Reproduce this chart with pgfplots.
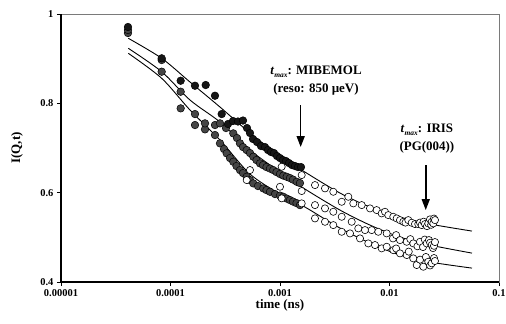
\documentclass[border=0pt]{standalone}
\usepackage{pgfplots}
\pgfplotsset{compat=1.18}
\usepackage{pgfplotstable}
\usepackage{fontspec}
\setmainfont{Liberation Serif}
\usetikzlibrary{arrows.meta}

\definecolor{darkpt}{HTML}{161616}
\definecolor{graypt}{HTML}{454545}
\definecolor{framegray}{HTML}{7A7A7A}

% filled points (MIBEMOL)
\pgfplotstableread{
t I
4.09e-5 0.9709
8.31e-5 0.9008
1.239e-4 0.8506
1.674e-4 0.8394
2.097e-4 0.8410
2.549e-4 0.8170
2.935e-4 0.7760
3.351e-4 0.7537
3.722e-4 0.7604
4.134e-4 0.7593
4.593e-4 0.7615
4.995e-4 0.7447
5.321e-4 0.7335
5.667e-4 0.7201
6.166e-4 0.7133
6.707e-4 0.7044
7.295e-4 0.7021
7.769e-4 0.6954
8.275e-4 0.6910
8.815e-4 0.6887
9.389e-4 0.6820
1.000e-3 0.6775
1.065e-3 0.6730
1.134e-3 0.6708
1.208e-3 0.6663
1.287e-3 0.6618
1.371e-3 0.6596
1.460e-3 0.6573
1.555e-3 0.6573
}\topfilled

\pgfplotstableread{
t I
4.09e-5 0.9642
8.31e-5 0.8708
1.239e-4 0.8260
1.674e-4 0.7760
2.066e-4 0.7552
2.549e-4 0.7514
2.832e-4 0.7552
3.213e-4 0.7447
3.746e-4 0.7328
4.048e-4 0.7223
4.312e-4 0.7104
4.593e-4 0.7021
4.964e-4 0.6954
5.321e-4 0.6887
5.704e-4 0.6805
6.101e-4 0.6730
6.568e-4 0.6656
6.995e-4 0.6618
7.529e-4 0.6573
8.103e-4 0.6540
8.686e-4 0.6506
9.290e-4 0.6461
1.000e-3 0.6417
1.072e-3 0.6383
1.151e-3 0.6356
1.234e-3 0.6327
1.314e-3 0.6293
1.421e-3 0.6244
1.522e-3 0.6215
}\midfilled

\pgfplotstableread{
t I
4.09e-5 0.9574
8.31e-5 0.8970
1.239e-4 0.7888
1.674e-4 0.7514
2.066e-4 0.7418
2.549e-4 0.7290
2.832e-4 0.7104
3.081e-4 0.6977
3.261e-4 0.6880
3.495e-4 0.6775
3.746e-4 0.6692
4.006e-4 0.6596
4.312e-4 0.6506
4.593e-4 0.6439
4.964e-4 0.6356
5.321e-4 0.6282
5.704e-4 0.6208
6.296e-4 0.6148
7.039e-4 0.6096
7.529e-4 0.6058
8.103e-4 0.6020
9.002e-4 0.5969
1.000e-3 0.5935
1.072e-3 0.5908
1.151e-3 0.5868
1.234e-3 0.5834
1.314e-3 0.5801
1.415e-3 0.5767
1.522e-3 0.5722
}\botfilled

% open points (IRIS)
\pgfplotstableread{
t I
1.578e-3 0.6394
2.087e-3 0.6170
2.576e-3 0.6096
3.068e-3 0.6020
3.661e-3 0.5796
4.206e-3 0.5908
4.672e-3 0.5760
5.573e-3 0.5722
6.637e-3 0.5648
7.640e-3 0.5610
8.487e-3 0.5536
9.097e-3 0.5572
9.750e-3 0.5498
1.083e-2 0.5460
1.163e-2 0.5424
1.247e-2 0.5386
1.337e-2 0.5348
1.400e-2 0.5330
1.485e-2 0.5386
1.595e-2 0.5326
1.710e-2 0.5297
1.832e-2 0.5297
1.900e-2 0.5330
1.968e-2 0.5274
2.050e-2 0.5350
2.110e-2 0.5297
2.200e-2 0.5250
2.261e-2 0.5312
2.344e-2 0.5402
2.400e-2 0.5280
2.429e-2 0.5348
2.512e-2 0.5312
2.550e-2 0.5420
2.603e-2 0.5386
}\topopen

\pgfplotstableread{
t I
1.036e-3 0.6580
1.578e-3 0.6036
2.087e-3 0.5722
2.576e-3 0.5648
3.068e-3 0.5572
3.661e-3 0.5460
4.517e-3 0.5348
5.189e-3 0.5200
5.975e-3 0.5162
6.878e-3 0.5162
7.901e-3 0.5124
9.428e-3 0.5088
1.076e-2 0.4976
1.150e-2 0.5050
1.247e-2 0.4938
1.436e-2 0.4900
1.550e-2 0.4960
1.650e-2 0.4864
1.800e-2 0.4800
1.899e-2 0.4900
2.023e-2 0.4782
2.100e-2 0.4950
2.186e-2 0.4864
2.294e-2 0.4938
2.350e-2 0.4880
2.429e-2 0.4827
2.497e-2 0.4759
2.550e-2 0.4810
2.603e-2 0.4894
}\midopen

\pgfplotstableread{
t I
4.964e-4 0.6282
5.321e-4 0.6506
1.000e-3 0.6132
1.036e-3 0.5873
1.578e-3 0.5760
2.087e-3 0.5424
2.576e-3 0.5348
3.068e-3 0.5274
3.661e-3 0.5124
4.359e-3 0.5088
5.378e-3 0.4976
6.404e-3 0.4864
7.372e-3 0.4827
8.487e-3 0.4753
9.428e-3 0.4789
1.083e-2 0.4714
1.150e-2 0.4750
1.247e-2 0.4641
1.436e-2 0.4603
1.500e-2 0.4680
1.650e-2 0.4529
1.772e-2 0.4380
1.900e-2 0.4500
2.036e-2 0.4342
2.150e-2 0.4560
2.261e-2 0.4453
2.350e-2 0.4370
2.429e-2 0.4418
2.549e-2 0.4536
2.600e-2 0.4470
}\botopen

% fit curves
\pgfplotstableread{
t I
4.118e-5 0.9456
8.31e-5 0.9008
1.507e-4 0.8477
2.832e-4 0.7917
5.321e-4 0.7335
1.000e-3 0.6820
1.691e-3 0.6461
3.532e-3 0.5991
6.637e-3 0.5678
1.247e-2 0.5453
2.344e-2 0.5297
5.667e-2 0.5140
}\topfit

\pgfplotstableread{
t I
4.118e-5 0.9232
8.31e-5 0.8708
1.507e-4 0.8074
2.832e-4 0.7581
5.321e-4 0.6954
1.000e-3 0.6461
1.691e-3 0.6081
3.532e-3 0.5610
6.637e-3 0.5274
1.247e-2 0.5006
2.344e-2 0.4827
5.667e-2 0.4647
}\midfit

\pgfplotstableread{
t I
4.118e-5 0.9120
8.31e-5 0.8560
1.507e-4 0.7850
2.832e-4 0.7178
5.321e-4 0.6417
1.000e-3 0.5969
1.691e-3 0.5678
3.532e-3 0.5207
6.637e-3 0.4871
1.247e-2 0.4603
2.344e-2 0.4447
5.667e-2 0.4311
}\botfit

\begin{document}
\begin{tikzpicture}
\useasboundingbox (-61bp,-42bp) rectangle (445bp,282bp);
\begin{axis}[
  at={(0,0)}, anchor=south west,
  scale only axis, width=438bp, height=268bp,
  xmode=log, log basis x=10,
  xmin=1e-5, xmax=0.1, ymin=0.4, ymax=1,
  xtick={1e-5,1e-4,1e-3,1e-2,1e-1},
  xticklabels={0.00001,0.0001,0.001,0.01,0.1},
  xminorticks=false,
  ytick={0.4,0.6,0.8,1},
  yticklabels={0.4,0.6,0.8,1},
  tick align=outside, tick pos=left,
  major tick length=4bp,
  tick style={black, line width=0.8bp},
  axis line style={draw=framegray, line width=0.8bp},
  ticklabel style={font=\fontsize{10.5}{12}\selectfont\bfseries},
  xlabel={time (ns)}, ylabel={I(Q,t)},
  every axis x label/.style={at={(axis description cs:0.5,0)}, yshift=-23bp, anchor=center, font=\fontsize{13}{15}\selectfont\bfseries},
  every axis y label/.style={at={(axis description cs:0,0.5)}, xshift=-44bp, rotate=90, anchor=center, font=\fontsize{13}{15}\selectfont\bfseries},
  clip=false,
]
\draw[black, line width=1.2bp] (rel axis cs:0,1) -- (rel axis cs:0,0) -- (rel axis cs:1,0);

\addplot[only marks, mark=*, mark size=3.8bp, mark options={fill=graypt, draw=black, line width=0.5bp}] table[x=t,y=I] {\botfilled};
\addplot[only marks, mark=*, mark size=3.8bp, mark options={fill=graypt, draw=black, line width=0.5bp}] table[x=t,y=I] {\midfilled};
\addplot[only marks, mark=*, mark size=3.8bp, mark options={fill=darkpt, draw=black, line width=0.5bp}] table[x=t,y=I] {\topfilled};

\addplot[only marks, mark=*, mark size=3.6bp, mark options={fill=white, draw=black, line width=0.6bp}] table[x=t,y=I] {\botopen};
\addplot[only marks, mark=*, mark size=3.6bp, mark options={fill=white, draw=black, line width=0.6bp}] table[x=t,y=I] {\midopen};
\addplot[only marks, mark=*, mark size=3.6bp, mark options={fill=white, draw=black, line width=0.6bp}] table[x=t,y=I] {\topopen};

\addplot[black, line width=0.9bp, smooth, no markers] table[x=t,y=I] {\topfit};
\addplot[black, line width=0.9bp, smooth, no markers] table[x=t,y=I] {\midfit};
\addplot[black, line width=0.9bp, smooth, no markers] table[x=t,y=I] {\botfit};

\node[align=center, font=\fontsize{13}{18}\selectfont\bfseries] at (axis cs:2.133e-3,0.8499)
  {\textit{t}\raisebox{-0.35ex}{\fontsize{7.5}{8}\selectfont\textit{max}}: MIBEMOL\\(reso: 850 µeV)};
\draw[black, line width=1.6bp, -{Triangle[length=11bp,width=8bp]}] (axis cs:1.545e-3,0.7962) -- (axis cs:1.545e-3,0.7021);

\node[align=center, font=\fontsize{13}{18}\selectfont\bfseries] at (axis cs:2.198e-2,0.7201)
  {\textit{t}\raisebox{-0.35ex}{\fontsize{7.5}{8}\selectfont\textit{max}}: IRIS\\(PG(004))};
\draw[black, line width=1.6bp, -{Triangle[length=11bp,width=8bp]}] (axis cs:2.143e-2,0.6618) -- (axis cs:2.143e-2,0.5610);
\end{axis}
\end{tikzpicture}
\end{document}
